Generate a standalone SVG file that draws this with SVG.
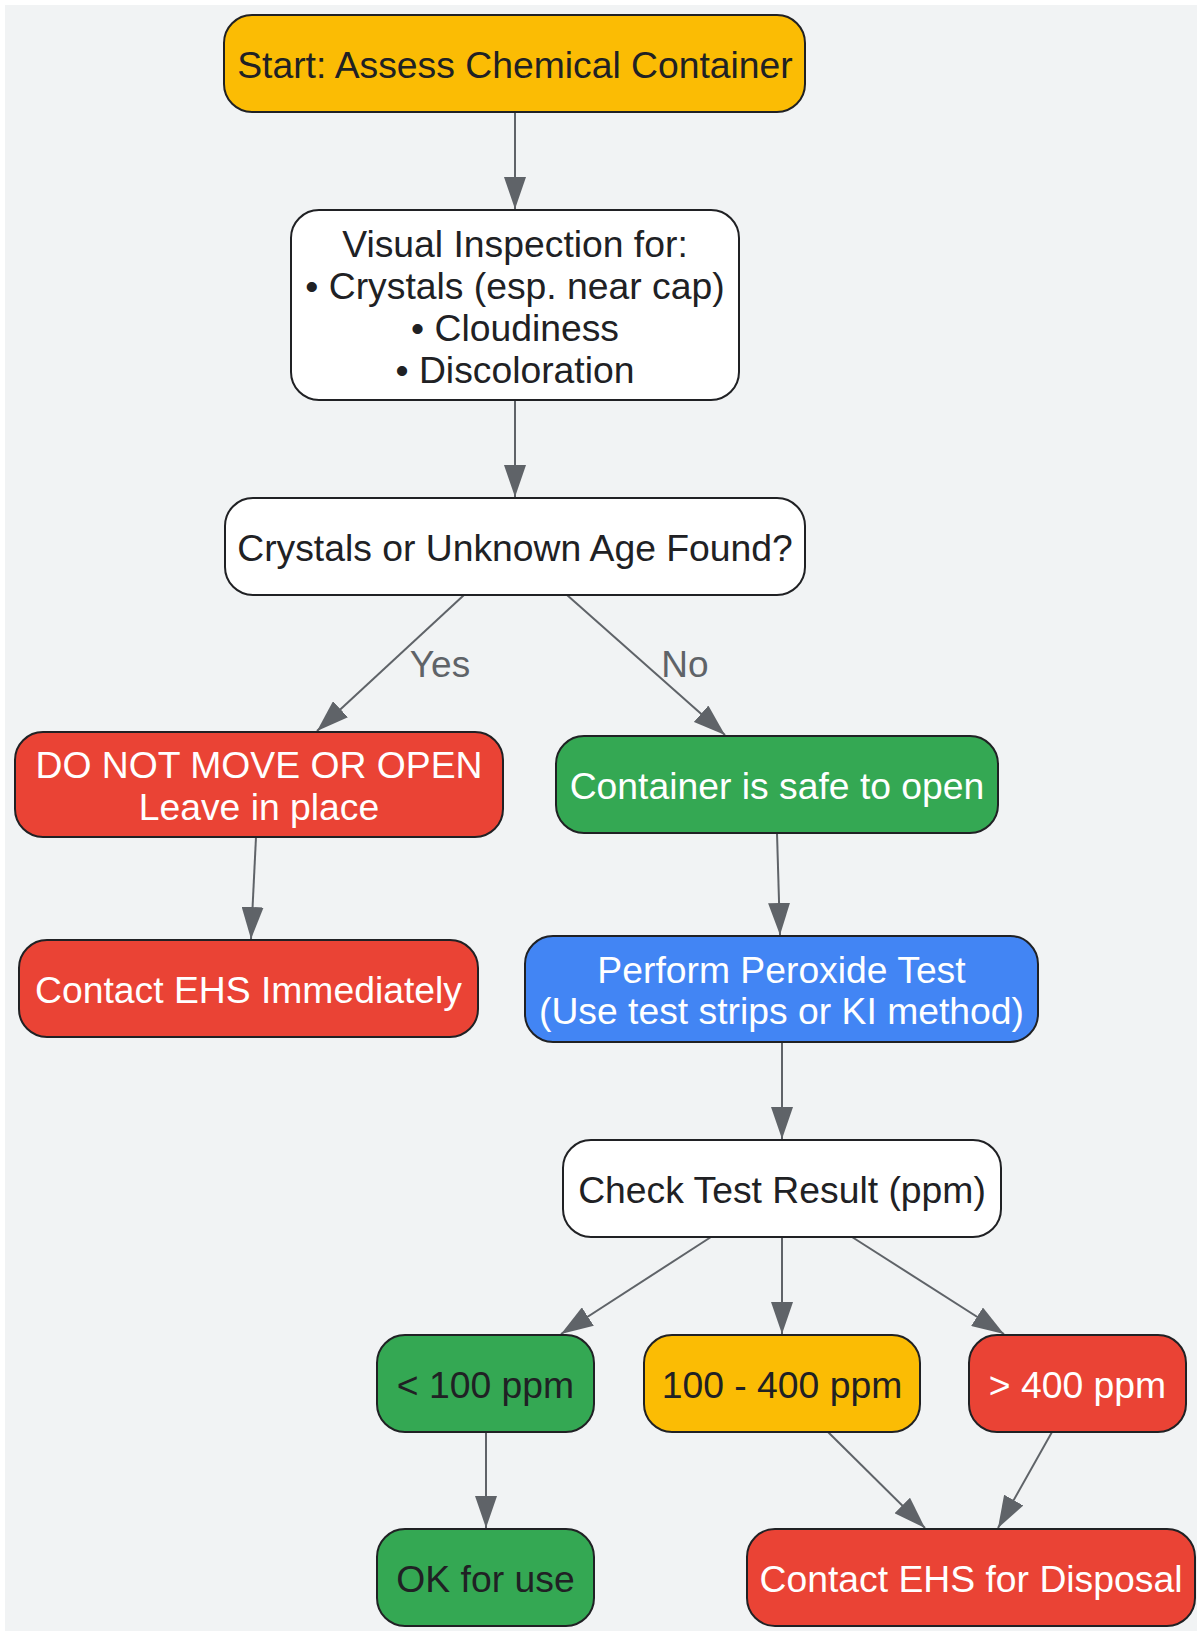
<svg xmlns="http://www.w3.org/2000/svg" width="1197" height="1631" viewBox="0 0 1197 1631">
<defs>
<marker id="arr" markerUnits="userSpaceOnUse" markerWidth="32" markerHeight="22" refX="32" refY="11" orient="auto">
<path d="M0,0 L32,11 L0,22 z" fill="#5f6368"/>
</marker>
<style>
.n{stroke:#202124;stroke-width:2}
.t{font-family:"Liberation Sans",Arial,sans-serif;font-size:37.3px;text-anchor:middle;fill:#202124}
.w{fill:#ffffff}
.e{stroke:#5f6368;stroke-width:2;fill:none;marker-end:url(#arr)}
.l{font-family:"Liberation Sans",Arial,sans-serif;font-size:37px;text-anchor:middle;fill:#5f6368}
.yel{fill:#fbbc04}.red{fill:#ea4335}.grn{fill:#34a853}.blu{fill:#4285f4}.wht{fill:#ffffff}
</style>
</defs>
<rect x="5" y="5" width="1192" height="1626" fill="#f1f3f4"/>
<g id="connectors">
<line class="e" x1="515" y1="112" x2="515" y2="209"/>
<line class="e" x1="515" y1="400" x2="515" y2="497"/>
<line class="e" x1="464" y1="595" x2="317" y2="731"/>
<line class="e" x1="567" y1="595" x2="725" y2="735"/>
<line class="e" x1="256" y1="837" x2="251" y2="939"/>
<line class="e" x1="777" y1="833" x2="780" y2="935"/>
<line class="e" x1="782" y1="1042" x2="782" y2="1139"/>
<line class="e" x1="711" y1="1237" x2="561" y2="1334"/>
<line class="e" x1="782" y1="1237" x2="782" y2="1334"/>
<line class="e" x1="852" y1="1237" x2="1004" y2="1334"/>
<line class="e" x1="486" y1="1432" x2="486" y2="1528"/>
<line class="e" x1="828" y1="1432" x2="925" y2="1528"/>
<line class="e" x1="1052" y1="1432" x2="998" y2="1528"/>
<text class="l" x="440" y="677">Yes</text>
<text class="l" x="685" y="677">No</text>
</g>
<g id="start"><rect class="n yel" x="224" y="15" width="581" height="97" rx="28"/><text class="t" x="515" y="77.5">Start: Assess Chemical Container</text></g>
<g id="visual"><rect class="n wht" x="291" y="210" width="448" height="190" rx="28"/><text class="t" x="515" y="257">Visual Inspection for:</text><text class="t" x="515" y="299">• Crystals (esp. near cap)</text><text class="t" x="515" y="341">• Cloudiness</text><text class="t" x="515" y="383">• Discoloration</text></g>
<g id="decision"><rect class="n wht" x="225" y="498" width="580" height="97" rx="28"/><text class="t" x="515" y="560.5">Crystals or Unknown Age Found?</text></g>
<g id="donot"><rect class="n red" x="15" y="732" width="488" height="105" rx="28"/><text class="t w" x="259" y="778">DO NOT MOVE OR OPEN</text><text class="t w" x="259" y="820">Leave in place</text></g>
<g id="safe"><rect class="n grn" x="556" y="736" width="442" height="97" rx="28"/><text class="t w" x="777" y="798.5">Container is safe to open</text></g>
<g id="ehsimm"><rect class="n red" x="19" y="940" width="459" height="97" rx="28"/><text class="t w" x="248.5" y="1002.5">Contact EHS Immediately</text></g>
<g id="test"><rect class="n blu" x="525" y="936" width="513" height="106" rx="28"/><text class="t w" x="781.5" y="982.5">Perform Peroxide Test</text><text class="t w" x="781.5" y="1024">(Use test strips or KI method)</text></g>
<g id="check"><rect class="n wht" x="563" y="1140" width="438" height="97" rx="28"/><text class="t" x="782" y="1202.5">Check Test Result (ppm)</text></g>
<g id="low"><rect class="n grn" x="377" y="1335" width="217" height="97" rx="28"/><text class="t" x="485.5" y="1397.5">&lt; 100 ppm</text></g>
<g id="mid"><rect class="n yel" x="644" y="1335" width="276" height="97" rx="28"/><text class="t" x="782" y="1397.5">100 - 400 ppm</text></g>
<g id="high"><rect class="n red" x="969" y="1335" width="217" height="97" rx="28"/><text class="t w" x="1077.5" y="1397.5">&gt; 400 ppm</text></g>
<g id="ok"><rect class="n grn" x="377" y="1529" width="217" height="97" rx="28"/><text class="t" x="485.5" y="1591.5">OK for use</text></g>
<g id="disposal"><rect class="n red" x="747" y="1529" width="448" height="97" rx="28"/><text class="t w" x="971" y="1591.5">Contact EHS for Disposal</text></g>
</svg>
